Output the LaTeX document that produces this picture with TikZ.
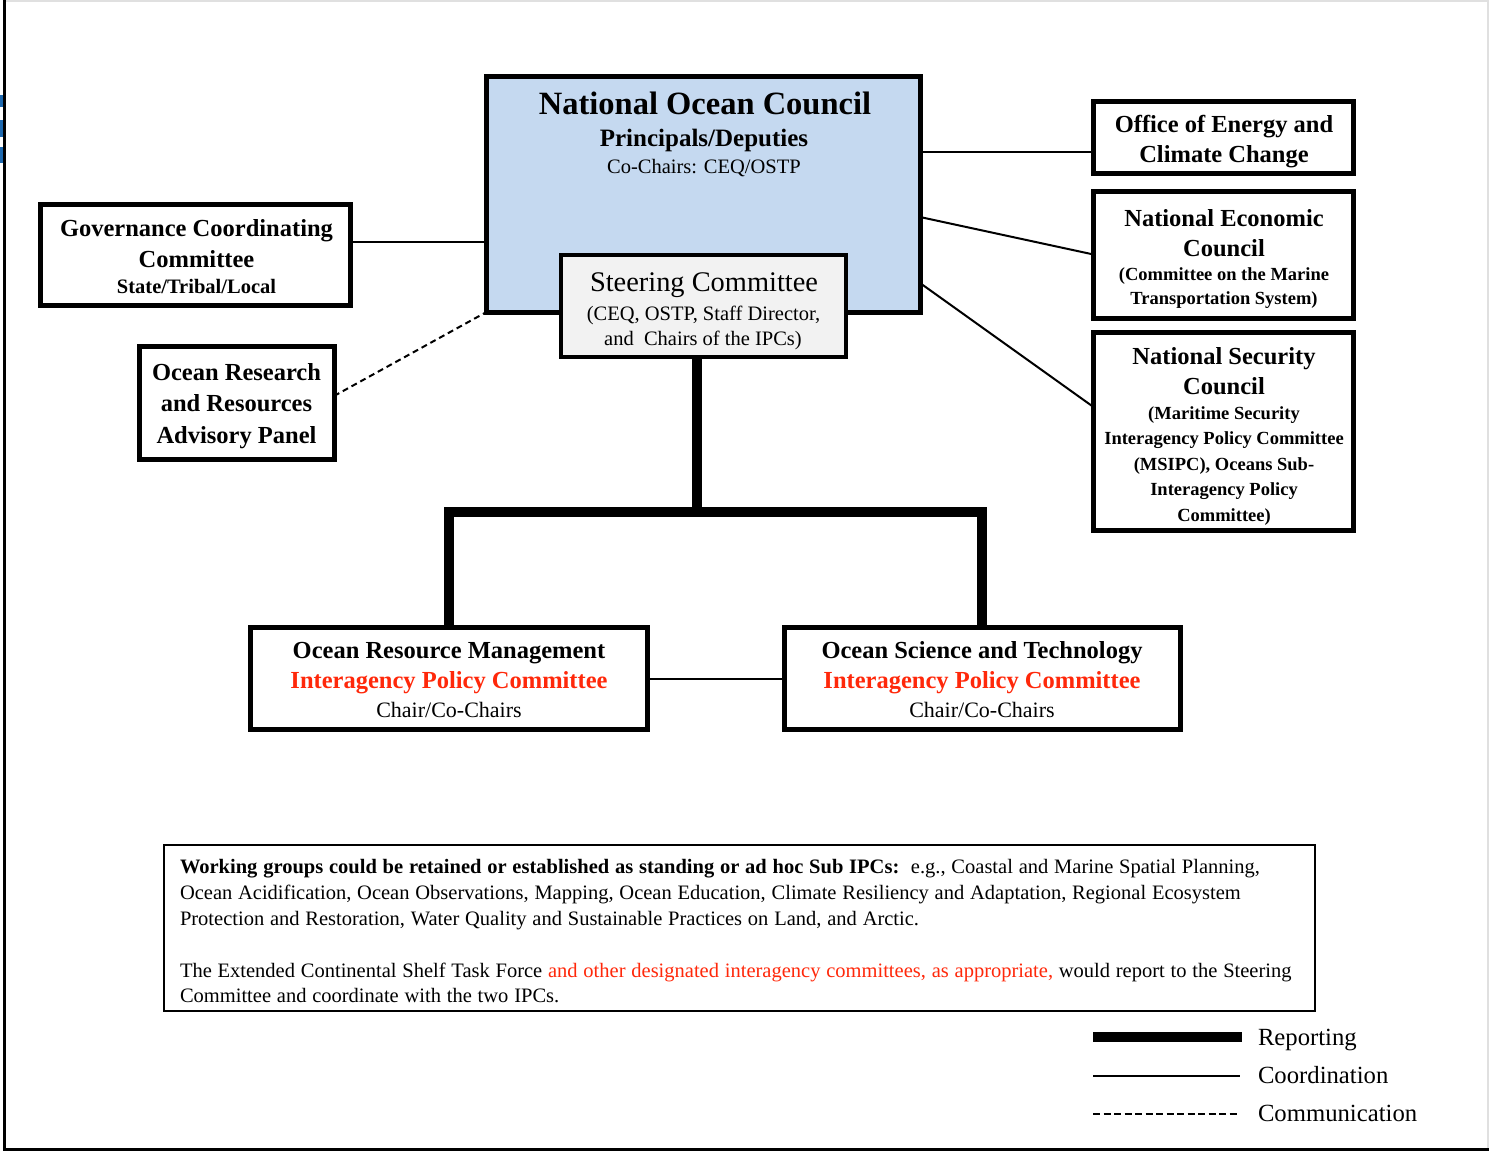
\documentclass[tikz,border=0pt]{standalone}
\usepackage{fontspec}
\setmainfont{Liberation Serif}
\definecolor{nocblue}{RGB}{197,217,240}
\definecolor{steergray}{RGB}{242,242,242}
\definecolor{ipcred}{RGB}{255,40,10}
\definecolor{logoblue}{RGB}{30,105,175}
\newcommand\myNoteSp{\spaceskip=5.8pt plus 1pt minus 1pt\relax}
\begin{document}
\begin{tikzpicture}[x=1pt,y=-1pt,
  orgbox/.style={draw=black, line width=5pt, fill=white, inner sep=0pt, outer sep=0pt},
  tx/.style={anchor=base, inner sep=0pt, outer sep=0pt},
  coordline/.style={line width=2pt},
  reportline/.style={line width=10pt},
  commline/.style={line width=2pt, dash pattern=on 6pt off 4pt},
  bA/.style={font=\fontsize{24.5}{29}\selectfont\bfseries},
  bS/.style={font=\fontsize{18.5}{22}\selectfont\bfseries},
  rT/.style={font=\fontsize{20.5}{25}\selectfont}]
\useasboundingbox (0,0) rectangle (1489,1151);
\fill[white] (0,0) rectangle (1489,1151);
% frame
\draw[line width=3pt] (4.5,0) -- (4.5,1151);
\draw[line width=2.5pt] (3,1149.5) -- (1489,1149.5);
\draw[black!12, line width=1.5pt] (6,0.75) -- (1489,0.75);
\draw[black!12, line width=1.5pt] (1488,0) -- (1488,1148);
\fill[logoblue] (0,95) rectangle (3,107);
\fill[logoblue] (0,120) rectangle (2.5,137);
\fill[logoblue] (0,147) rectangle (3,163);

% National Ocean Council
\node[orgbox, fill=nocblue, minimum width=433.5pt, minimum height=235.5pt] (noc) at (703.25,194.25) {};
\node[tx, font=\fontsize{32.5}{39}\selectfont\bfseries] (nocA) at (705,114) {National Ocean Council};
\node[tx, font=\fontsize{25}{30}\selectfont\bfseries] (nocB) at (704,146) {Principals/Deputies};
\node[tx, rT] (nocC) at (704,173) {Co-Chairs: CEQ/OSTP};

% side boxes
\node[orgbox, minimum width=310pt, minimum height=101pt] (gcc) at (195.5,255) {};
\node[tx, bA] (gccA) at (196.5,236.5) {Governance Coordinating};
\node[tx, bA] (gccB) at (196.5,267) {Committee};
\node[tx, font=\fontsize{20.5}{25}\selectfont\bfseries] (gccC) at (196.5,293.5) {State/Tribal/Local};

\node[orgbox, minimum width=194.5pt, minimum height=113pt] (orrap) at (236.75,403) {};
\node[tx, bA] (orA) at (236.5,380.5) {Ocean Research};
\node[tx, bA] (orB) at (236.5,411.5) {and Resources};
\node[tx, bA] (orC) at (236.5,443) {Advisory Panel};

\node[orgbox, minimum width=260.5pt, minimum height=72pt] (oecc) at (1223.25,137.5) {};
\node[tx, bA] (oeA) at (1224,132) {Office of Energy and};
\node[tx, bA] (oeB) at (1224,162.5) {Climate Change};

\node[orgbox, minimum width=260pt, minimum height=127pt] (nec) at (1223.5,254.5) {};
\node[tx, bA] (neA) at (1224,226) {National Economic};
\node[tx, bA] (neB) at (1224,256.5) {Council};
\node[tx, bS] (neC) at (1224,280) {(Committee on the Marine};
\node[tx, bS] (neD) at (1224,304) {Transportation System)};

\node[orgbox, minimum width=260pt, minimum height=198pt] (nsc) at (1223.5,431.5) {};
\node[tx, bA] (nsA) at (1224,364) {National Security};
\node[tx, bA] (nsB) at (1224,394.5) {Council};
\node[tx, bS] (nsC) at (1224,419) {(Maritime Security};
\node[tx, bS] (nsD) at (1224,444.5) {Interagency Policy Committee};
\node[tx, bS] (nsE) at (1224,470) {(MSIPC), Oceans Sub-};
\node[tx, bS] (nsF) at (1224,495.5) {Interagency Policy};
\node[tx, bS] (nsG) at (1224,521) {Committee)};

% coordination connectors
\coordinate (yg) at (0,242);
\coordinate (yo) at (0,152);
\coordinate (ye) at (0,217);
\coordinate (ys) at (0,283);
\coordinate (ysb) at (0,407);
\coordinate (yr) at (0,396);
\draw[coordline] (gcc.east |- yg) -- (noc.west |- yg);
\draw[coordline] (noc.east |- yo) -- (oecc.west |- yo);
\draw[coordline] (noc.east |- ye) -- (nec.west);
\draw[coordline] (noc.east |- ys) -- (nsc.west |- ysb);
\draw[commline] (orrap.east |- yr) -- (noc.south west);

% Steering committee
\node[orgbox, line width=4pt, fill=steergray, minimum width=285pt, minimum height=102pt] (steer) at (703.5,306) {};
\node[tx, font=\fontsize{28.4}{34}\selectfont] (stA) at (704,291.7) {Steering Committee};
\node[tx, rT] (stB) at (703.5,320) {(CEQ, OSTP, Staff Director,};
\node[tx, rT] (stC) at (703,345.5) {and\ \ Chairs of the IPCs)};

% IPC boxes
\node[orgbox, minimum width=397pt, minimum height=102pt] (orm) at (449,678.5) {};
\node[tx, bA] (ormA) at (449,658) {Ocean Resource Management};
\node[tx, bA, text=ipcred] (ormB) at (449,688) {Interagency Policy Committee};
\node[tx, font=\fontsize{22}{26}\selectfont] (ormC) at (449,717.5) {Chair/Co-Chairs};

\node[orgbox, minimum width=395.5pt, minimum height=102pt] (ost) at (982.25,678.5) {};
\node[tx, bA] (ostA) at (982,658) {Ocean Science and Technology};
\node[tx, bA, text=ipcred] (ostB) at (982,688) {Interagency Policy Committee};
\node[tx, font=\fontsize{22}{26}\selectfont] (ostC) at (982,717.5) {Chair/Co-Chairs};

\draw[coordline] (orm.east) -- (ost.west);

% reporting lines
\coordinate (rx) at (697,0);
\coordinate (rmid) at (697,512);
\draw[reportline] (steer.south -| rx) -- (rmid);
\draw[reportline] (orm.north) -- (orm.north |- rmid) -- (ost.north |- rmid) -- (ost.north);

% note box
\node[draw=black, line width=2pt, fill=none, inner sep=0pt, minimum width=1151pt, minimum height=166pt] (note) at (739.5,928) {};
\node[tx, anchor=base west, rT] (w1) at (180,873) {\myNoteSp\textbf{Working groups could be retained or established as standing or ad hoc Sub IPCs:}\ \ e.g., Coastal and Marine Spatial Planning,};
\node[tx, anchor=base west, rT] (w2) at (180,899) {\myNoteSp Ocean Acidification, Ocean Observations, Mapping, Ocean Education, Climate Resiliency and Adaptation, Regional Ecosystem};
\node[tx, anchor=base west, rT] (w3) at (180,925) {\myNoteSp Protection and Restoration, Water Quality and Sustainable Practices on Land, and Arctic.};
\node[tx, anchor=base west, rT] (w4) at (180,977) {\myNoteSp The Extended Continental Shelf Task Force \textcolor{ipcred}{and other designated interagency committees, as appropriate,} would report to the Steering};
\node[tx, anchor=base west, rT] (w5) at (180,1002) {\myNoteSp Committee and coordinate with the two IPCs.};

% legend
\coordinate (l1a) at (1093,1037); \coordinate (l1b) at (1242,1037);
\coordinate (l2a) at (1093,1075.5); \coordinate (l2b) at (1240,1075.5);
\coordinate (l3a) at (1093,1114); \coordinate (l3b) at (1240,1114);
\draw[reportline] (l1a) -- (l1b);
\draw[coordline] (l2a) -- (l2b);
\draw[line width=2pt, dash pattern=on 7pt off 3.5pt] (l3a) -- (l3b);
\node[tx, anchor=base west, font=\fontsize{24.7}{30}\selectfont] (lgA) at (1258,1045) {Reporting};
\node[tx, anchor=base west, font=\fontsize{24.7}{30}\selectfont] (lgB) at (1258,1083) {Coordination};
\node[tx, anchor=base west, font=\fontsize{24.7}{30}\selectfont] (lgC) at (1258,1121.5) {Communication};
\end{tikzpicture}
\end{document}
